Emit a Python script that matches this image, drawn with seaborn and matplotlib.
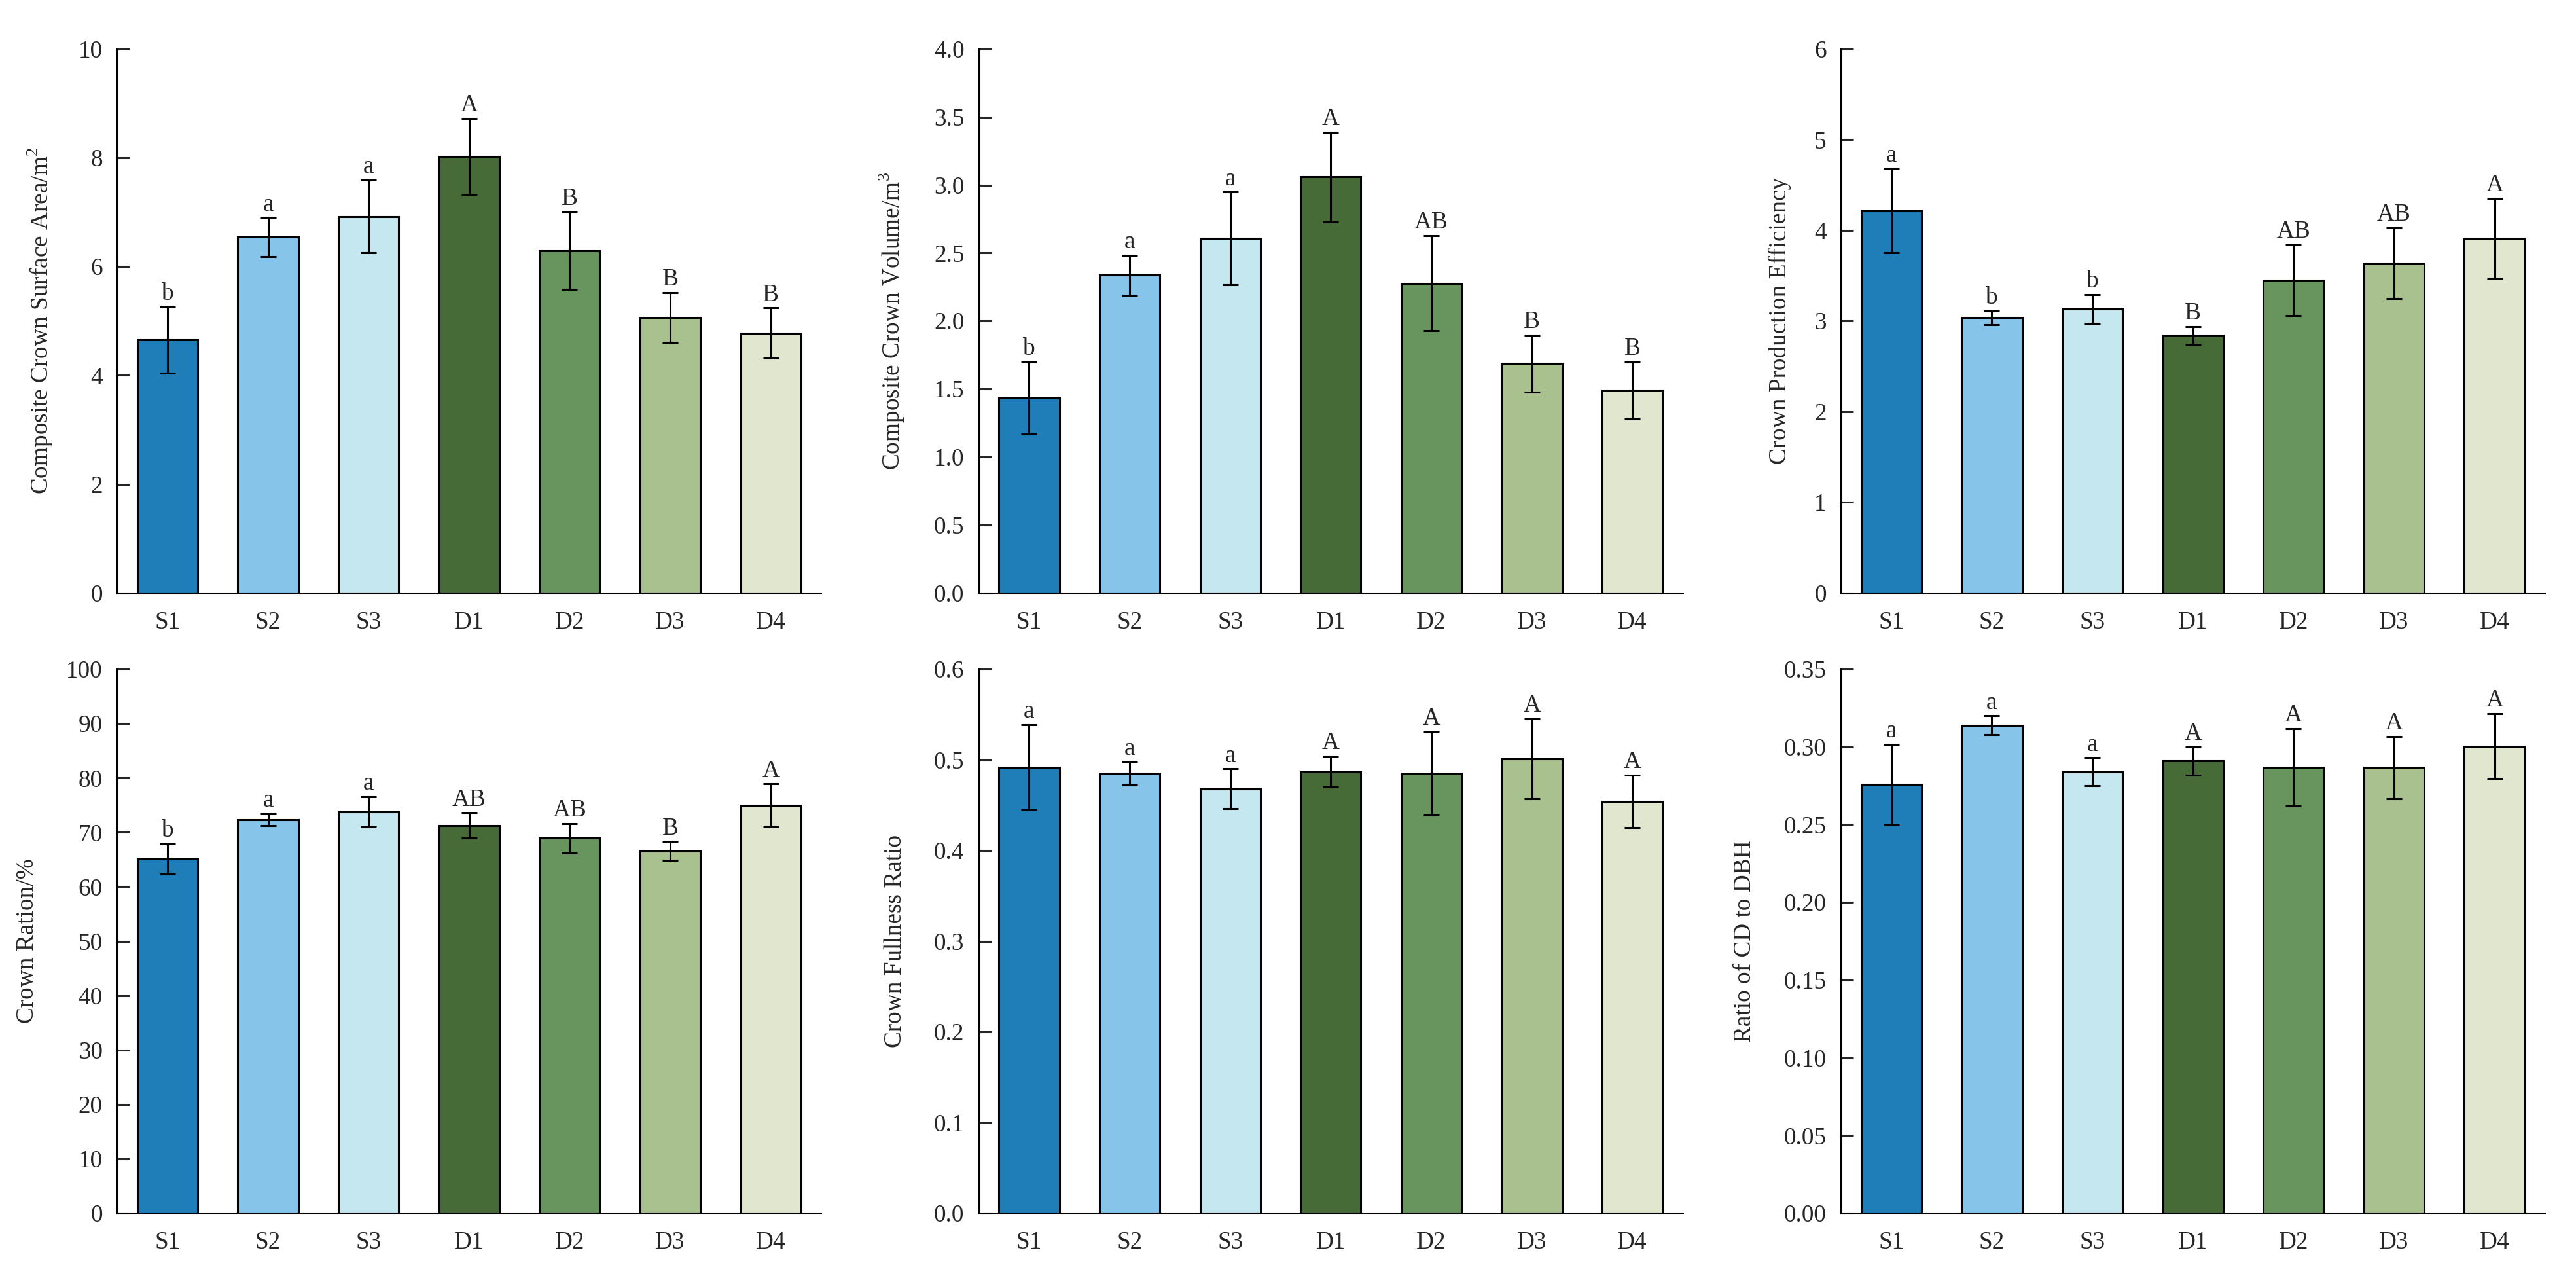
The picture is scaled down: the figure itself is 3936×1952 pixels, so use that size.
import matplotlib
matplotlib.use("Agg")
import matplotlib.pyplot as plt
import seaborn as sns
import pandas as pd
import numpy as np

groups = ["S1", "S2", "S3", "D1", "D2", "D3", "D4"]
colors = ["#1f7eb8", "#86c4ea", "#c5e7ef", "#466b37", "#68955e", "#a9c08f", "#e1e7cf"]

csa_mean = [4.65, 6.54, 6.92, 8.02, 6.29, 5.06, 4.78]
csa_err = [0.61, 0.36, 0.67, 0.70, 0.71, 0.46, 0.46]
csa_letters = ["b", "a", "a", "A", "B", "B", "B"]

ccv_mean = [1.435, 2.337, 2.608, 3.059, 2.277, 1.687, 1.489]
ccv_err = [0.265, 0.147, 0.34, 0.33, 0.35, 0.21, 0.21]
ccv_letters = ["b", "a", "a", "A", "AB", "B", "B"]

cpe_mean = [4.217, 3.036, 3.13, 2.84, 3.45, 3.64, 3.91]
cpe_err = [0.465, 0.077, 0.16, 0.10, 0.39, 0.39, 0.44]
cpe_letters = ["a", "b", "b", "B", "AB", "AB", "A"]

cr_mean = [65.1, 72.3, 73.8, 71.2, 68.9, 66.6, 75.0]
cr_err = [2.8, 1.1, 2.8, 2.3, 2.7, 1.7, 3.9]
cr_letters = ["b", "a", "a", "AB", "AB", "B", "A"]

cfr_mean = [0.492, 0.485, 0.468, 0.487, 0.485, 0.501, 0.454]
cfr_err = [0.047, 0.013, 0.022, 0.017, 0.046, 0.044, 0.029]
cfr_letters = ["a", "a", "a", "A", "A", "A", "A"]

cdd_mean = [0.2758, 0.314, 0.284, 0.291, 0.2868, 0.2868, 0.3005]
cdd_err = [0.026, 0.006, 0.009, 0.009, 0.025, 0.020, 0.021]
cdd_letters = ["a", "a", "a", "A", "A", "A", "A"]

panels = [
    ("Composite Crown Surface Area/m$^2$", csa_mean, csa_err, csa_letters, 10, 2, "{:.0f}", -0.088),
    ("Composite Crown Volume/m$^3$", ccv_mean, ccv_err, ccv_letters, 4.0, 0.5, "{:.1f}", -0.103),
    ("Crown Production Efficiency", cpe_mean, cpe_err, cpe_letters, 6, 1, "{:.0f}", -0.071),
    ("Crown Ration/%", cr_mean, cr_err, cr_letters, 100, 10, "{:.0f}", -0.112),
    ("Crown Fullness Ratio", cfr_mean, cfr_err, cfr_letters, 0.6, 0.1, "{:.1f}", -0.103),
    ("Ratio of CD to DBH", cdd_mean, cdd_err, cdd_letters, 0.35, 0.05, "{:.2f}", -0.121),
]

sns.set_theme(style="white")
plt.rcParams["font.family"] = ["Liberation Serif", "DejaVu Serif"]
plt.rcParams["mathtext.fontset"] = "custom"
plt.rcParams["mathtext.rm"] = "Liberation Serif"

fig = plt.figure(figsize=(19.68, 9.76), dpi=200)
lefts = [0.0455, 0.380, 0.7147]
bottoms = [0.536, 0.0507]
W, H = 0.2732, 0.4257
FS = 13.4
LW = 1.1

for i, (label, mean, err, letters, ymax, step, fmt, lx) in enumerate(panels):
    ax = fig.add_axes([lefts[i % 3], bottoms[i // 3], W, H])
    df = pd.DataFrame({"group": groups, "value": mean})
    sns.barplot(data=df, x="group", y="value", hue="group", palette=colors,
                order=groups, hue_order=groups, width=0.6, dodge=False, saturation=1,
                edgecolor="black", linewidth=LW, legend=False, ax=ax, errorbar=None)
    ax.errorbar(np.arange(len(groups)), mean, yerr=err, fmt="none", ecolor="black",
                elinewidth=LW, capsize=4.2, capthick=LW)
    for xi, (m, e, t) in enumerate(zip(mean, err, letters)):
        ax.annotate(t, (xi, m + e), xytext=(0, 1), textcoords="offset points",
                    ha="center", va="bottom", fontsize=FS)
    ax.set_xlim(-0.5, 6.5)
    ax.set_ylim(0, ymax)
    ticks = np.arange(0, ymax + step / 2, step)
    ax.set_yticks(ticks)
    ax.set_yticklabels([fmt.format(t) for t in ticks], fontsize=FS)
    ax.set_xticks(range(len(groups)))
    ax.set_xticklabels(groups, fontsize=FS)
    ax.tick_params(axis="y", direction="in", length=7, width=LW, pad=8, left=True)
    ax.tick_params(axis="x", length=0, pad=10)
    ax.set_xlabel("")
    ax.set_ylabel(label, fontsize=FS)
    ax.yaxis.set_label_coords(lx, 0.5)
    for s in ["top", "right"]:
        ax.spines[s].set_visible(False)
    for s in ["left", "bottom"]:
        ax.spines[s].set_color("black")
        ax.spines[s].set_linewidth(LW)
    ax.set_facecolor("white")

fig.savefig("out.png", dpi=200, facecolor="white")
